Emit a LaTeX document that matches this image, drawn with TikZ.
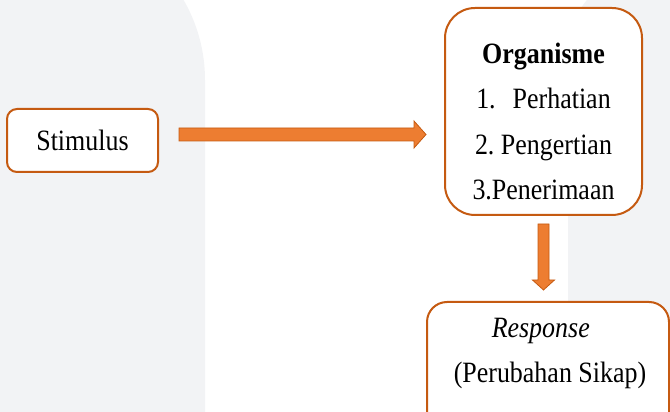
\documentclass[tikz,border=0pt]{standalone}
\usepackage{fontspec}
\setmainfont{Liberation Serif}[FakeStretch=0.88]
\usetikzlibrary{calc}
\frenchspacing

\definecolor{boxline}{RGB}{197,90,17}
\definecolor{arrowfill}{RGB}{237,125,49}
\definecolor{pagegray}{RGB}{242,243,245}

\tikzset{
    box/.style={draw=boxline, line width=2pt, fill=white, rounded corners=#1},
    box/.default=10pt,
    fatarrow/.style={draw=boxline, line width=0.8pt, fill=arrowfill, line join=miter},
}

\begin{document}
\begin{tikzpicture}[x=1pt, y=1pt, font=\fontsize{29.5}{45.5}\selectfont]
        \useasboundingbox (0,0) rectangle (670,412);
        \clip (0,0) rectangle (670,412);

        % halaman di belakang
        \fill[pagegray] (-10,-10) -- (205,-10) -- (205,332) arc[start angle=0, end angle=90, radius=160] -- (-10,492) -- cycle;
        \fill[pagegray] (568,-10) -- (568,350) .. controls (568,390) and (580,405) .. (594,420) -- (680,420) -- (680,-10) -- cycle;

        % kotak
        \node[box, minimum width=151pt, minimum height=63pt] (stim) at (82.5,271.5) {Stimulus};

        \node[box=30pt, minimum width=197pt, minimum height=207pt] (org) at (543.5,300.5) {};
        \node[align=center] (orglist) at ([yshift=-10pt]org.center)
            {\textbf{Organisme}\\1.\hspace{17pt}Perhatian\\2. Pengertian\\3.Penerimaan};

        \node[box=20pt, minimum width=242pt, minimum height=130pt, anchor=north] (resp) at (548,111) {};
        \node[align=left] (resplist) at ([xshift=2pt, yshift=13.5pt]resp.center)
            {\hspace*{38pt}\textit{Response}\\(Perubahan Sikap)};

        % panah
        \coordinate (h1) at ([xshift=20pt, yshift=6pt]stim.east);
        \path (org.west |- h1) ++(-18,0) coordinate (h2);
        \draw[fatarrow] (h1) ++(0,6.5) -- ($(h2)+(-12,6.5)$) -- ++(0,7) -- (h2)
            -- ++(-12,-13.5) -- ++(0,7) -- ($(h1)+(0,-6.5)$) -- cycle;

        \coordinate (v1) at ([yshift=-8pt]org.south);
        \path (resp.north -| v1) ++(0,11) coordinate (v2);
        \draw[fatarrow] (v1) ++(-5.5,0) -- ($(v2)+(-5.5,10)$) -- ++(-5.5,0) -- (v2)
            -- ++(11,10) -- ++(-5.5,0) -- ($(v1)+(5.5,0)$) -- cycle;
    \end{tikzpicture}
\end{document}
